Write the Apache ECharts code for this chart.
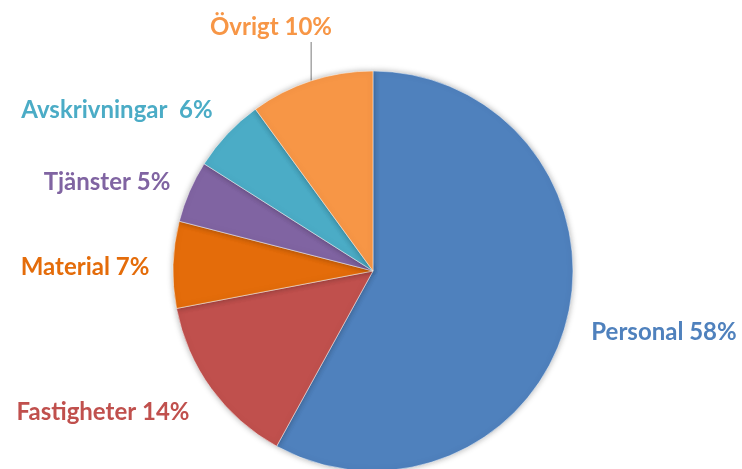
<!DOCTYPE html>
<html><head><meta charset="utf-8">
<script src="https://cdn.jsdelivr.net/npm/echarts@6/dist/echarts.min.js"></script>
<style>html,body{margin:0;padding:0;background:#fff}#c{width:742px;height:469px}</style>
</head><body><div id="c"></div>
<script>
const categories = ['Personal', 'Fastigheter', 'Material', 'Tjänster', 'Avskrivningar ', 'Övrigt'];
const values = [58, 14, 7, 5, 6, 10];
const colors = ['#4F81BD', '#C0504D', '#E46C0A', '#8064A2', '#4BACC6', '#F79646'];
const labelPos = [[664, 332], [103, 412], [85, 267], [107, 182], [117, 110], [271, 27]];

const chart = echarts.init(document.getElementById('c'));
chart.setOption({
  animation: false,
  series: [{
    type: 'pie',
    center: [373, 271],
    radius: 200,
    startAngle: 90,
    clockwise: true,
    itemStyle: { borderColor: '#fff', borderWidth: 0.5, shadowBlur: 6, shadowColor: 'rgba(0,0,0,0.3)' },
    label: {
      show: true,
      overflow: 'none',
      formatter: p => p.name + ' ' + p.value + '%',
      fontFamily: 'Lato',
      fontWeight: 'bold',
      fontSize: 24
    },
    labelLine: { show: false, lineStyle: { color: '#A6A6A6', width: 1.5 } },
    labelLayout: p => {
      const pos = labelPos[p.dataIndex];
      const res = { x: pos[0], y: pos[1], align: 'center', verticalAlign: 'middle' };
      if (p.labelLinePoints && p.dataIndex === 5) {
        const s = p.labelLinePoints[0];
        const bottom = pos[1] + 15;
        res.labelLinePoints = [s, [s[0], bottom], [s[0], bottom]];
      }
      return res;
    },
    data: categories.map((n, i) => ({
      name: n, value: values[i],
      itemStyle: { color: colors[i] },
      label: { color: colors[i] },
      labelLine: { show: i === 5 }
    }))
  }]
});
</script></body></html>
